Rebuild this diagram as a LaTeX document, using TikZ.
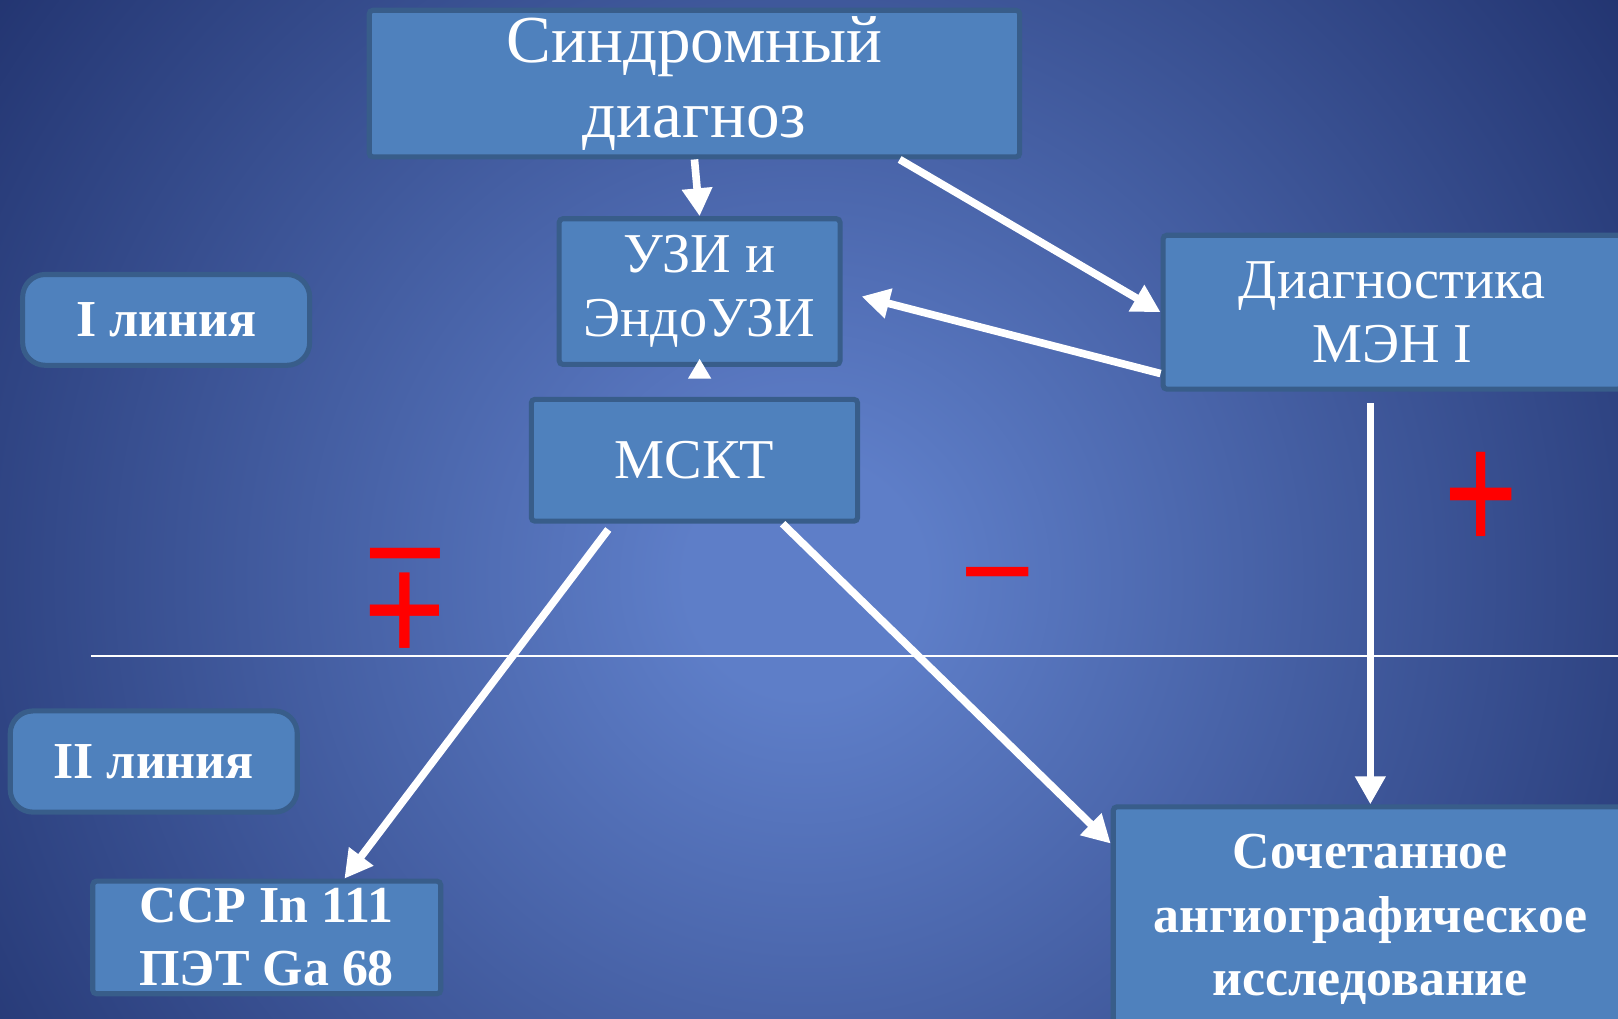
\documentclass[tikz,border=0pt]{standalone}
\usepackage{fontspec}
\setmainfont{Liberation Serif}
\usepackage{graphicx}
\usetikzlibrary{positioning,calc,arrows.meta}

\definecolor{boxfill}{HTML}{4F81BD}
\definecolor{boxline}{HTML}{385D8A}
\definecolor{bglight}{RGB}{94,126,200}
\definecolor{bgdark}{RGB}{30,47,106}
\pgfdeclareradialshading{bgglow}{\pgfpoint{0bp}{0bp}}{color(0bp)=(bglight);
  color(3bp)=(bglight); color(27bp)=(bgdark); color(50bp)=(bgdark)}

\begin{document}
\begin{tikzpicture}[x=0.01cm,y=-0.01cm,
                    box/.style={draw=boxline,line width=1.4pt,fill=boxfill,
                                text=white,align=center,inner sep=0pt,
                                rounded corners=1pt},
                    midbox/.style={box,font=\fontsize{15.5}{17.6}\selectfont},
                    lowbox/.style={box,font=\fontsize{14.3}{17.4}\selectfont\bfseries},
                    tag/.style={lowbox,rounded corners=2.2mm},
                    arr/.style={white,line width=2.1pt,
                                -{Triangle[length=7.7pt,width=8pt]}},
                    sign/.style={text=red,inner sep=0pt,anchor=base}]
  \useasboundingbox (0,0) rectangle (1568,987);
  \clip (0,0) rectangle (1568,987);
  \shade[shading=bgglow] (-180,-400) rectangle (1740,1520);
  \draw[white,line width=0.45pt] (88,636) -- (1568,636);

  \node[box,minimum width=6.3cm,minimum height=1.42cm,
        font=\fontsize{18.5}{20.8}\selectfont] (synd) at (673,81)
        {Синдромный\\диагноз};
  \node[midbox,minimum width=2.72cm,minimum height=1.41cm,
        below=5.5mm of synd,xshift=0.5mm] (uzi) {УЗИ и\\ЭндоУЗИ};
  \node[midbox,minimum width=3.16cm,minimum height=1.18cm,
        below=2.9mm of uzi,xshift=-0.5mm] (msct) {МСКТ};
  \node[midbox,minimum width=4.44cm,minimum height=1.49cm,
        right=30.8mm of uzi,yshift=-2mm] (men) {Диагностика\\МЭН I};
  \node[tag,minimum width=2.78cm,minimum height=0.88cm] (lineone)
        at (161,310) {I линия};
  \node[tag,minimum width=2.78cm,minimum height=0.98cm] (linetwo)
        at (149,738) {II линия};
  \node[lowbox,minimum width=3.37cm,minimum height=1.09cm] (ccp)
        at (258.5,908.5) {ССР In 111\\ПЭТ Ga 68};
  \node[lowbox,minimum width=4.98cm,minimum height=2.18cm] (soch)
        at (1328,891) {Сочетанное\\ангиографическое\\исследование};

  \draw[arr] (synd.south) -- (uzi.north);
  \draw[arr] ($(synd.south west)!0.813!(synd.south east)$) -- (men.west);
  \draw[arr,shorten >=1.9mm] ($(men.south west)!0.114!(men.north west)$)
        -- (uzi.east);
  % only the head shows between the two boxes
  \draw[arr,-{Triangle[length=5.5pt,width=6pt]},shorten <=2.3mm,
        shorten >=-0.8mm] (msct.north -| uzi.south) -- (uzi.south);
  \draw[arr,shorten <=0.7mm] ($(msct.south west)!0.253!(msct.south east)$)
        -- ($(ccp.north west)!0.72!(ccp.north east)$);
  \draw[arr] ($(msct.south west)!0.766!(msct.south east)$)
        -- ([yshift=-3.8mm]soch.north west);
  \draw[arr,shorten <=1.1mm] (men.south -| soch.north) -- (soch.north);

  \node[sign,font=\fontsize{41.5}{42}\selectfont\bfseries] (minusa)
        at (393,585) {−};
  \node[sign,font=\fontsize{41}{42}\selectfont\bfseries] (plusa)
        at (392,644) {\scalebox{1}[1.09]{+}};
  \node[sign,font=\fontsize{36.9}{37}\selectfont\bfseries] (minusb)
        at (967,597) {−};
  \node[sign,font=\fontsize{36.4}{37}\selectfont\bfseries] (plusb)
        at (1435,537) {\scalebox{1}[1.37]{+}};
\end{tikzpicture}
\end{document}
